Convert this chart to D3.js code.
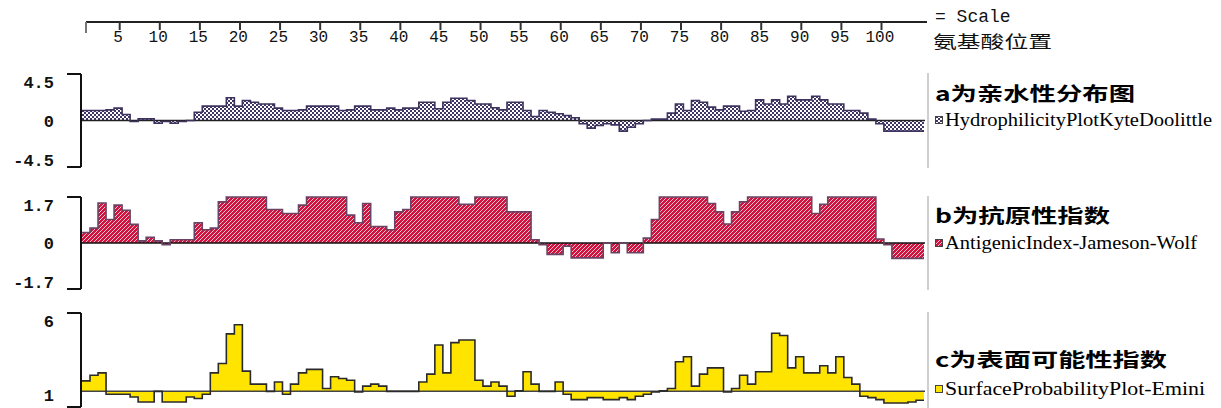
<!DOCTYPE html>
<html>
<head>
<meta charset="utf-8">
<script src="https://cdn.jsdelivr.net/npm/d3@7"></script>
<style>
  body { margin: 0; background: #fff; }
  svg { display: block; }
</style>
</head>
<body>
<script>
/* protein property plots: hydrophilicity, antigenic index, surface probability */

// residue values (1..105)
const hydro = [0.97,0.97,0.97,1.03,1.2,0.58,-0.1,0.16,0.16,-0.26,
  -0.1,-0.26,-0.1,0,0.8,1.39,1.39,1.39,2.2,1.39,
  1.94,1.77,1.6,1.6,1.2,0.97,0.97,1.03,1.39,1.39,
  1.39,1.39,0.97,1.03,1.39,1.39,1.03,1.03,1.2,1.03,
  1.2,1.2,1.77,1.77,1.13,1.77,2.16,2.16,1.94,1.6,
  1.6,1.23,1.03,1.77,1.77,0.97,0.39,0.97,0.8,0.65,
  0.48,0.26,-0.32,-0.74,-0.48,-0.32,-0.42,-1.03,-0.65,-0.32,
  0,0.13,0.13,0.71,1.6,0.97,1.94,1.77,1.29,1.03,
  1.39,1.39,0.9,0.97,2.0,1.6,2.0,1.6,2.35,2.0,
  2.0,2.35,2.0,1.6,1.6,0.97,0.97,0.71,0.13,-0.32,
  -1.03,-1.03,-1.03,-1.03,-1.03];

const antigen = [0.39,0.55,1.48,0.87,1.4,1.21,0.69,0.08,0.21,0.08,
  -0.06,0.12,0.12,0.12,0.75,0.49,0.55,1.52,1.7,1.7,
  1.7,1.7,1.7,1.24,1.24,1.09,1.09,1.4,1.7,1.7,
  1.7,1.7,1.7,1.03,0.75,1.46,0.61,0.61,0.49,1.15,
  1.24,1.7,1.7,1.7,1.7,1.7,1.7,1.43,1.43,1.7,
  1.7,1.7,1.7,1.15,1.15,1.15,0.12,-0.06,-0.42,-0.42,
  -0.12,-0.55,-0.55,-0.55,-0.55,0,-0.36,0,-0.36,-0.36,
  0.18,0.87,1.7,1.7,1.7,1.7,1.7,1.7,1.46,1.15,
  0.7,1.15,1.52,1.7,1.7,1.7,1.7,1.7,1.7,1.7,
  1.7,1.09,1.43,1.7,1.7,1.7,1.7,1.7,1.7,0.15,
  -0.06,-0.57,-0.57,-0.57,-0.57];

const surface = [1.67,2.03,2.18,0.81,0.81,0.81,0.64,0.32,0.32,1.0,
  0.32,0.32,0.32,0.64,0.54,0.81,2.18,2.78,4.67,5.25,
  2.29,1.46,1.46,1.0,1.6,0.81,1.46,2.18,2.4,2.4,
  1.18,1.93,1.82,1.71,0.96,1.33,1.46,1.33,1.0,1.0,
  1.0,1.0,1.6,2.1,3.96,2.18,4.11,4.28,4.28,1.71,
  1.33,1.6,1.33,0.69,1.03,2.25,1.46,1.0,1.0,1.6,
  0.81,0.47,0.47,0.6,0.6,0.47,0.47,0.6,0.47,0.69,
  0.81,0.96,1.03,1.18,2.89,3.21,1.33,2.1,2.5,2.5,
  0.96,1.18,2.03,1.46,2.25,2.25,4.71,4.56,2.5,3.21,
  2.18,2.18,2.63,2.18,3.21,1.88,1.46,0.69,0.6,0.47,
  0.26,0.26,0.26,0.32,0.43];

const rulerTicks = [5,10,15,20,25,30,35,40,45,50,55,60,65,70,75,80,85,90,95,100];

const aTickLabels = ["4.5", "0", "-4.5"];
const bTickLabels = ["1.7", "0", "-1.7"];
const cTickLabels = ["6", "1"];

const titles = ["a为亲水性分布图", "b为抗原性指数", "c为表面可能性指数"];
const legendNames = ["HydrophilicityPlotKyteDoolittle", "AntigenicIndex-Jameson-Wolf", "SurfaceProbabilityPlot-Emini"];

const W = 1221, H = 408;
const svg = d3.select("body").append("svg").attr("width", W).attr("height", H);

// fill patterns
const defs = svg.append("defs");
const pa = defs.append("pattern").attr("id", "checkA").attr("width", 4).attr("height", 4)
  .attr("patternUnits", "userSpaceOnUse");
pa.append("rect").attr("width", 4).attr("height", 4).attr("fill", "#fff");
pa.append("rect").attr("width", 2).attr("height", 2).attr("fill", "#3f3666");
pa.append("rect").attr("x", 2).attr("y", 2).attr("width", 2).attr("height", 2).attr("fill", "#3f3666");

const pb = defs.append("pattern").attr("id", "hatchB").attr("width", 4).attr("height", 4)
  .attr("patternUnits", "userSpaceOnUse");
pb.append("rect").attr("width", 4).attr("height", 4).attr("fill", "#d0143f");
[[3,0],[2,1],[1,2],[0,3]].forEach(p => {
  pb.append("rect").attr("x", p[0]).attr("y", p[1]).attr("width", 1).attr("height", 1).attr("fill", "#f6c4cf");
});

const N = hydro.length;
const x = d3.scaleLinear().domain([0, N]).range([82, 924]);

// ruler at top
const ruler = svg.append("g");
ruler.append("line").attr("x1", 86).attr("x2", 927).attr("y1", 22).attr("y2", 22)
  .attr("stroke", "#222").attr("stroke-width", 2);
ruler.append("line").attr("x1", 86).attr("x2", 86).attr("y1", 22).attr("y2", 33)
  .attr("stroke", "#777").attr("stroke-width", 2);
ruler.selectAll(".rt").data(rulerTicks).enter().append("line")
  .attr("x1", d => x(d - 0.3)).attr("x2", d => x(d - 0.3))
  .attr("y1", 22).attr("y2", 30)
  .attr("stroke", "#333").attr("stroke-width", 2);
ruler.selectAll(".rl").data(rulerTicks).enter().append("text")
  .attr("x", d => x(d - 0.5))
  .attr("y", 42)
  .attr("text-anchor", "middle")
  .attr("font-family", "Liberation Mono, DejaVu Sans Mono, monospace")
  .attr("font-size", 16)
  .attr("fill", "#111")
  .text(d => d);

svg.append("text").attr("x", 935).attr("y", 22)
  .attr("font-family", "Liberation Mono, monospace").attr("font-size", 18)
  .attr("fill", "#111").text("= Scale");
svg.append("text").attr("x", 933).attr("y", 48)
  .attr("font-family", "Noto Sans CJK SC").attr("font-size", 17)
  .attr("textLength", 119).attr("lengthAdjust", "spacingAndGlyphs")
  .attr("fill", "#111").text("氨基酸位置");

// one panel
function panel(values, y, base, fill, stroke, baseColor, labels, labelVals, idx, titleY, legY, titleW, legW, swatch) {
  const g = svg.append("g");
  const pts = values.map((v, i) => ({ x: x(i), v: v }));
  pts.push({ x: x(N), v: values[N - 1] });

  const area = d3.area().curve(d3.curveStepAfter)
    .x(d => d.x).y0(y(base)).y1(d => y(d.v));
  const line = d3.line().curve(d3.curveStepAfter)
    .x(d => d.x).y(d => y(d.v));

  g.append("path").attr("d", area(pts)).attr("fill", fill);
  g.append("line").attr("x1", 82).attr("x2", 925).attr("y1", y(base)).attr("y2", y(base))
    .attr("stroke", baseColor).attr("stroke-width", 1.5);
  g.append("path").attr("d", line(pts)).attr("fill", "none")
    .attr("stroke", stroke).attr("stroke-width", 1.6);

  // y axis
  const dom = y.domain();
  const top = y(dom[1]), bot = y(dom[0]);
  g.append("line").attr("x1", 81).attr("x2", 81).attr("y1", top).attr("y2", bot)
    .attr("stroke", "#111").attr("stroke-width", 2);
  [top, bot].forEach(t => {
    g.append("line").attr("x1", 67).attr("x2", 81).attr("y1", t).attr("y2", t)
      .attr("stroke", "#111").attr("stroke-width", 2);
  });
  g.selectAll(".yl").data(labelVals).enter().append("text")
    .attr("x", 54)
    .attr("y", (d, i) => {
      const yy = y(d);
      if (i === 0) return yy + 14;
      if (i === labelVals.length - 1) return Math.min(yy - 1, H - 7);
      return yy + 6;
    })
    .attr("text-anchor", "end")
    .attr("font-family", "Liberation Mono, DejaVu Sans Mono, monospace")
    .attr("font-weight", "bold")
    .attr("font-size", 17)
    .attr("fill", "#111")
    .text((d, i) => labels[i]);

  // right frame line
  g.append("line").attr("x1", 928).attr("x2", 928).attr("y1", top - 1).attr("y2", Math.min(bot + 1, H))
    .attr("stroke", "#cfcfcf").attr("stroke-width", 2);

  // title + legend
  g.append("text").attr("x", 935).attr("y", titleY)
    .attr("font-family", "Noto Sans CJK SC").attr("font-weight", "bold").attr("font-size", 19)
    .attr("textLength", titleW).attr("lengthAdjust", "spacingAndGlyphs")
    .attr("fill", "#000").text(titles[idx]);
  g.append("rect").attr("x", 935.5).attr("y", legY - 9.5).attr("width", 7).attr("height", 7)
    .attr("fill", swatch).attr("stroke", "#444").attr("stroke-width", 1);
  g.append("text").attr("x", 945).attr("y", legY)
    .attr("font-family", "Liberation Serif, serif").attr("font-size", 19)
    .attr("textLength", legW).attr("lengthAdjust", "spacingAndGlyphs")
    .attr("fill", "#000").text(legendNames[idx]);
}

const ya = d3.scaleLinear().domain([-4.5, 4.5]).range([167, 74]);
const yb = d3.scaleLinear().domain([-1.7, 1.7]).range([289, 197]);
const yc = d3.scaleLinear().domain([0, 6]).range([407, 313]);

panel(hydro, ya, 0, "url(#checkA)", "#3d335e", "#222", aTickLabels, [4.5, 0, -4.5], 0, 101, 126, 200, 267, "url(#checkA)");
panel(antigen, yb, 0, "url(#hatchB)", "#6a4466", "#111", bTickLabels, [1.7, 0, -1.7], 1, 223, 249, 175, 252, "url(#hatchB)");
panel(surface, yc, 1, "#ffe400", "#2a2a2a", "#444", cTickLabels, [6, 0], 2, 367, 395, 232, 260, "#ffe400");
</script>
</body>
</html>
